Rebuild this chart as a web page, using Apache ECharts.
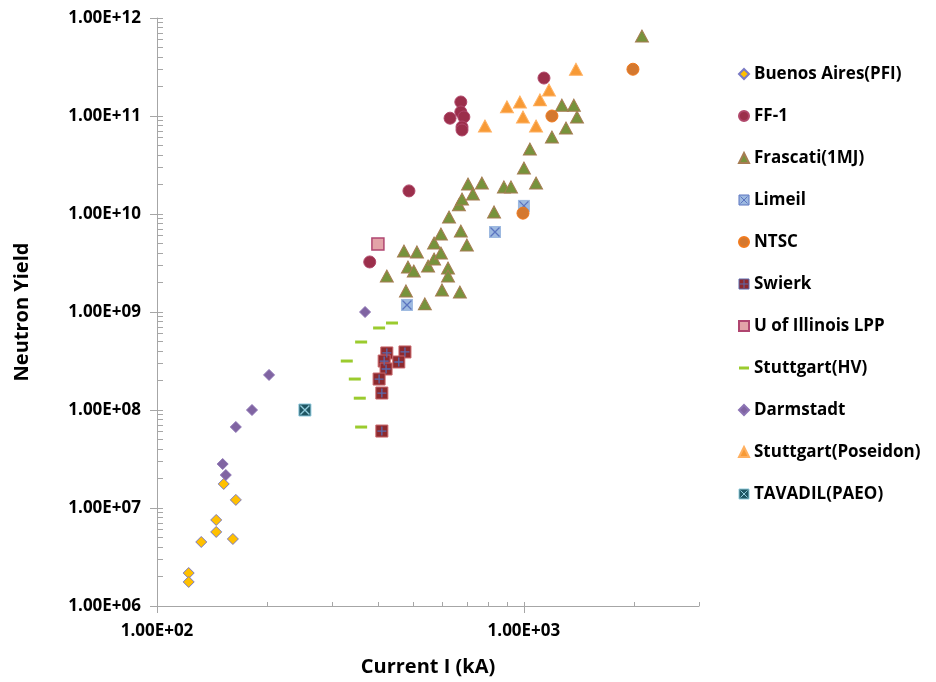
<!DOCTYPE html>
<html>
<head>
<meta charset="utf-8">
<script src="https://cdn.jsdelivr.net/npm/echarts@6/dist/echarts.min.js"></script>
<style>
  html, body { margin: 0; padding: 0; background: #fff; }
  #main { width: 936px; height: 682px; }
</style>
</head>
<body>
<div id="main"></div>
<script>
// [current kA, neutron yield]
var buenosAires = [[122, 2.17e6], [122, 1.76e6], [132, 4.5e6], [145, 5.7e6], [145, 7.55e6], [161, 4.83e6], [164, 1.21e7], [152, 1.76e7]];
var ff1 = [[380, 3.24e9], [486, 1.72e10], [673, 1.39e11], [673, 1.10e11], [686, 9.77e10], [629, 9.5e10], [678, 7.72e10], [678, 7.2e10], [1134, 2.44e11]];
var frascati = [[423, 2.33e9], [471, 4.19e9], [511, 4.1e9], [483, 2.88e9], [501, 2.62e9], [477, 1.64e9], [537, 1.21e9], [548, 2.95e9],
    [569, 5.06e9], [569, 3.47e9], [594, 4.0e9], [594, 6.25e9], [625, 9.3e9], [621, 2.81e9], [621, 2.33e9], [598, 1.68e9],
    [669, 1.6e9], [665, 1.24e10], [678, 1.42e10], [673, 6.7e9], [699, 4.83e9], [704, 2.02e10], [726, 1.6e10], [768, 2.07e10],
    [829, 1.05e10], [882, 1.89e10], [922, 1.89e10], [1000, 2.95e10], [1079, 2.07e10], [1038, 4.6e10], [1192, 6.1e10],
    [1302, 7.55e10], [1395, 9.77e10], [1269, 1.29e11], [1368, 1.29e11], [2097, 6.55e11]];
var limeil = [[1000, 1.21e10], [834, 6.55e9], [480, 1.18e9]];
var ntsc = [[1982, 3.0e11], [1192, 1.0e11], [994, 1.02e10]];
var swierk = [[423, 3.82e8], [474, 3.91e8], [416, 3.16e8], [456, 3.09e8], [421, 2.62e8], [403, 2.07e8], [410, 1.49e8], [410, 6.1e7]];
var illinois = [[400, 4.94e9]];
var stuttgartHV = [[403, 6.87e8], [437, 7.72e8], [360, 4.94e8], [329, 3.16e8], [346, 2.07e8], [357, 1.32e8], [360, 6.7e7]];
var darmstadt = [[151, 2.81e7], [154, 2.17e7], [164, 6.71e7], [181.5, 1.0e8], [202, 2.28e8], [369, 1.0e9]];
var poseidon = [[1386, 3.0e11], [1170, 1.84e11], [1106, 1.46e11], [975, 1.39e11], [899, 1.24e11], [994, 9.77e10], [1079, 7.9e10], [783, 7.9e10]];
var tavadil = [[253, 1.0e8]];

var seriesNames = ['Buenos Aires(PFI)', 'FF-1', 'Frascati(1MJ)', 'Limeil', 'NTSC', 'Swierk', 'U of Illinois LPP',
    'Stuttgart(HV)', 'Darmstadt', 'Stuttgart(Poseidon)', 'TAVADIL(PAEO)'];

// axis ticks
var xMajor = [100, 1000];
var xMinor = [200, 300, 400, 500, 600, 700, 800, 900, 2000, 3000];
var yMajor = [1e6, 1e7, 1e8, 1e9, 1e10, 1e11, 1e12];
var mantissas = [2, 3, 4, 5, 6, 7, 8, 9];

var yMinor = [];
for (var d = 0; d < yMajor.length - 1; d++) {
    for (var m = 0; m < mantissas.length; m++) {
        yMinor.push(mantissas[m] * yMajor[d]);
    }
}

var FONT = '"Open Sans", "Liberation Sans", sans-serif';
var AXIS_GRAY = '#a6a6a6';

var XPATH = 'path://M0 0L10 10M10 0L0 10';
var PLUSPATH = 'path://M5 0L5 10M0 5L10 5';
var SQ_X = 'path://M0 0H10V10H0ZM1.5 1.5L8.5 8.5M8.5 1.5L1.5 8.5';
var SQ_PLUS = 'path://M0 0H10V10H0ZM5 1L5 9M1 5L9 5';

function sci(v) {
    var e = Math.round(Math.log10(v));
    return '1.00E+' + (e < 10 ? '0' : '') + e;
}

function scatter(name, data, symbol, size, style) {
    style.opacity = 1;
    return {
        name: name,
        type: 'scatter',
        data: data,
        symbol: symbol,
        symbolSize: size,
        itemStyle: style,
        emphasis: { disabled: true }
    };
}

function overlay(name, data, symbol, size, color) {
    return {
        name: name,
        type: 'scatter',
        data: data,
        symbol: symbol,
        symbolSize: size,
        silent: true,
        legendHoverLink: false,
        itemStyle: { color: 'none', borderColor: color, borderWidth: 1.3, opacity: 1 },
        emphasis: { disabled: true }
    };
}

function logAxis(pos, min, max, extra) {
    var ax = {
        type: 'log',
        logBase: 10,
        position: pos,
        min: min,
        max: max,
        splitLine: { show: false },
        axisLine: { show: false },
        axisLabel: { show: false },
        axisTick: { show: false }
    };
    for (var k in extra) ax[k] = extra[k];
    return ax;
}

var chart = echarts.init(document.getElementById('main'));

var option = {
    animation: false,
    backgroundColor: '#fff',
    grid: { left: 157, top: 18, right: 237, bottom: 76, containLabel: false },
    legend: {
        orient: 'vertical',
        left: 733,
        top: 59,
        itemWidth: 10,
        itemHeight: 10,
        itemGap: 22,
        selectedMode: false,
        textStyle: { fontFamily: FONT, fontWeight: 'bold', fontSize: 17, color: '#000', lineHeight: 20 },
        data: [
            { name: seriesNames[0] },
            { name: seriesNames[1] },
            { name: seriesNames[2] },
            { name: seriesNames[3], icon: SQ_X, itemStyle: { color: '#9db9e0', borderColor: '#5b74c0', borderWidth: 1 } },
            { name: seriesNames[4] },
            { name: seriesNames[5], icon: SQ_PLUS, itemStyle: { color: '#8e2a2e', borderColor: '#5a6aae', borderWidth: 1 } },
            { name: seriesNames[6] },
            { name: seriesNames[7], icon: 'path://M0 0H10V3H0Z' },
            { name: seriesNames[8] },
            { name: seriesNames[9] },
            { name: seriesNames[10], icon: SQ_X, itemStyle: { color: '#1f5663', borderColor: '#93cddd', borderWidth: 1 } }
        ]
    },
    xAxis: [
        logAxis('bottom', 100, 3000, {
            name: 'Current I (kA)',
            nameLocation: 'middle',
            nameGap: 51,
            nameTextStyle: { fontFamily: FONT, fontWeight: 'bold', fontSize: 20, color: '#000' },
            axisLine: { show: true, lineStyle: { color: AXIS_GRAY, width: 1 } },
            axisTick: { show: true, inside: false, length: 7, customValues: xMajor, lineStyle: { color: AXIS_GRAY } },
            axisLabel: { show: true, margin: 17, customValues: xMajor, formatter: sci,
                fontFamily: FONT, fontWeight: 'bold', fontSize: 17, color: '#000' }
        }),
        logAxis('bottom', 100, 3000, {
            axisTick: { show: true, inside: true, length: 4, customValues: xMajor.concat(xMinor), lineStyle: { color: AXIS_GRAY } }
        })
    ],
    yAxis: [
        logAxis('left', 1e6, 1e12, {
            name: 'Neutron Yield',
            nameLocation: 'middle',
            nameRotate: 90,
            nameGap: 125,
            nameTextStyle: { fontFamily: FONT, fontWeight: 'bold', fontSize: 20, color: '#000' },
            axisLine: { show: true, lineStyle: { color: AXIS_GRAY, width: 1 } },
            axisTick: { show: true, inside: false, length: 7, customValues: yMajor, lineStyle: { color: AXIS_GRAY } },
            axisLabel: { show: true, margin: 16, customValues: yMajor, formatter: sci,
                fontFamily: FONT, fontWeight: 'bold', fontSize: 17, color: '#000' }
        }),
        logAxis('left', 1e6, 1e12, {
            axisTick: { show: true, inside: true, length: 6, customValues: yMajor.concat(yMinor), lineStyle: { color: AXIS_GRAY } }
        })
    ],
    series: [
        scatter(seriesNames[0], buenosAires, 'diamond', 11, { color: '#ffc000', borderColor: '#7a7ac4', borderWidth: 1 }),
        scatter(seriesNames[1], ff1, 'circle', 12, { color: '#9b2f4b', borderColor: '#b0476a', borderWidth: 1 }),
        scatter(seriesNames[2], frascati, 'triangle', [13, 12], { color: '#77933c', borderColor: '#a67c52', borderWidth: 1 }),
        scatter(seriesNames[3], limeil, 'rect', 12, { color: '#9db9e0' }),
        overlay(seriesNames[3], limeil, XPATH, 9, '#5b74c0'),
        scatter(seriesNames[4], ntsc, 'circle', 12, { color: '#d4782f', borderColor: '#f07a1e', borderWidth: 1 }),
        scatter(seriesNames[5], swierk, 'rect', 12, { color: '#8e2a2e', borderColor: '#c8656a', borderWidth: 1 }),
        overlay(seriesNames[5], swierk, PLUSPATH, 9, '#5a6aae'),
        scatter(seriesNames[6], illinois, 'rect', 12, { color: '#e3a3a8', borderColor: '#b04670', borderWidth: 1.5 }),
        scatter(seriesNames[7], stuttgartHV, 'rect', [12, 3], { color: '#9bcb2e' }),
        scatter(seriesNames[8], darmstadt, 'diamond', 11, { color: '#8064a2', borderColor: '#8c74b4', borderWidth: 1 }),
        scatter(seriesNames[9], poseidon, 'triangle', [13, 12], { color: '#f79a36', borderColor: '#ffb060', borderWidth: 1 }),
        scatter(seriesNames[10], tavadil, 'rect', 12, { color: '#1f5663', borderColor: '#8dc9de', borderWidth: 1 }),
        overlay(seriesNames[10], tavadil, XPATH, 9, '#93cddd')
    ]
};

chart.setOption(option);
</script>
</body>
</html>
